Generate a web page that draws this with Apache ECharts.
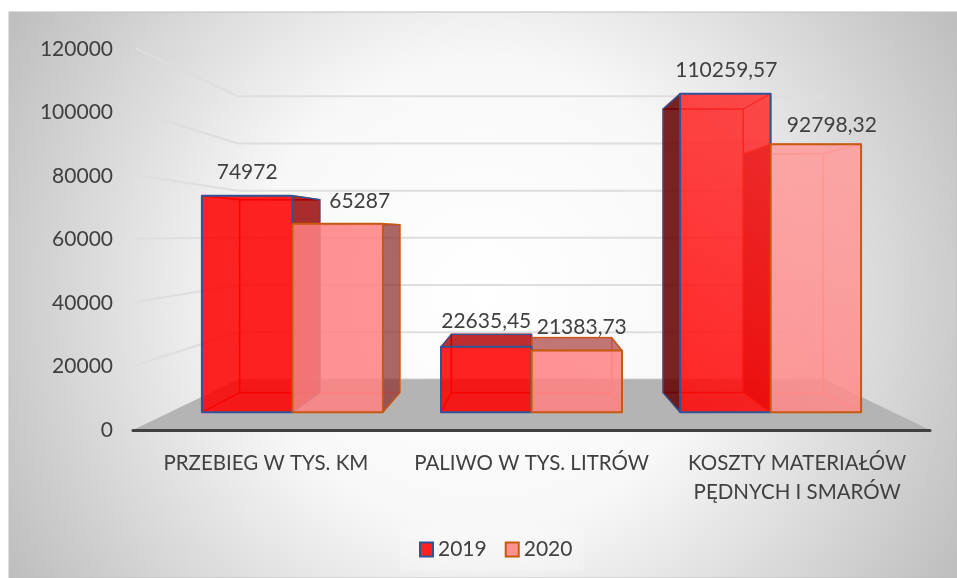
<!DOCTYPE html>
<html>
<head>
<meta charset="utf-8">
<style>html,body{margin:0;padding:0;background:#fff}#c{width:957px;height:578px}</style>
<script src="https://cdn.jsdelivr.net/npm/echarts@6/dist/echarts.min.js"></script>
</head>
<body>
<div id="c"></div>
<script>
const categories = ['PRZEBIEG W TYS. KM', 'PALIWO W TYS. LITRÓW', 'KOSZTY MATERIAŁÓW\nPĘDNYCH I SMARÓW'];
const values2019 = [74972, 22635.45, 110259.57];
const values2020 = [65287, 21383.73, 92798.32];
const yTicks = [0, 20000, 40000, 60000, 80000, 100000, 120000];
const label2019Shift = [[0, 0], [0, -3], [1, 0]];
const label2020Shift = [[22, 1], [5, 0], [16, 4]];

const FONT = 'Lato';
const VP = [531.5, 233];
const FRONT = [0.9, 0.91], BACK = [0.797, 0.81], WALL = [0.736, 0.743];
const proj = (p, d) => [VP[0] + d[0] * (p[0] - VP[0]), VP[1] + d[1] * (p[1] - VP[1])];

const styles = [
  { stroke: '#2F5597', innerStroke: 'rgba(215,0,0,0.75)', c0: 'rgba(255,0,0,0.85)', c1: 'rgba(255,50,50,0.85)', inner: 'rgba(255,0,0,0.05)', back: 'rgba(255,0,0,0.10)',
    side: 'rgba(150,0,0,0.80)', sideL: 'rgba(100,0,0,0.85)', top: 'rgba(175,0,0,0.80)', floor: 'rgba(255,0,0,0.10)' },
  { stroke: '#C55A11', innerStroke: 'rgba(255,120,110,0.8)', c0: 'rgba(255,130,130,0.85)', c1: 'rgba(255,160,160,0.85)', inner: 'rgba(255,60,60,0.08)', back: 'rgba(255,120,120,0.10)',
    side: 'rgba(140,50,50,0.72)', sideL: 'rgba(100,0,0,0.8)', top: 'rgba(170,70,70,0.72)', floor: 'rgba(255,90,90,0.10)' }
];

function renderBar(sIdx, shifts) {
  return function (params, api) {
    const st = styles[sIdx];
    const cat = api.value(0), val = api.value(1);
    const band = api.size([1, 0])[0];
    const bw = 0.3785 * band;
    const cx = api.coord([cat, 0])[0] + (sIdx - 0.5) * bw;
    const y0 = api.coord([cat, 0])[1], y1 = api.coord([cat, val])[1];
    const xl = cx - bw / 2, xr = cx + bw / 2;
    const F = (x, y) => proj([x, y], FRONT), B = (x, y) => proj([x, y], BACK);
    const fl = F(xl, y0), fr = F(xr, y0), ftl = F(xl, y1), ftr = F(xr, y1);
    const bl = B(xl, y0), br = B(xr, y0), btl = B(xl, y1), btr = B(xr, y1);
    const face = (pts, fill, z2, lw, stroke) => ({
      type: 'polygon', shape: { points: pts }, z2,
      style: { fill, stroke, lineWidth: lw, lineJoin: 'round' }
    });
    const frontFill = new echarts.graphic.LinearGradient(600, 400, 800, 90,
      [{ offset: 0, color: st.c0 }, { offset: 1, color: st.c1 }], true);
    const rightOut = br[0] > fr[0], leftOut = bl[0] < fl[0], topOut = btl[1] < ftl[1];
    const txt = String(val).replace('.', ',');
    const shift = shifts[cat];
    return {
      type: 'group',
      children: [
        face([bl, br, btr, btl], st.back, 1, 1.5, st.innerStroke),
        face([fl, fr, br, bl], st.floor, 2, 1.2, st.innerStroke),
        face([fl, bl, btl, ftl], leftOut ? st.sideL : st.inner, leftOut ? 4 : 3, 1.3, leftOut ? st.stroke : st.innerStroke),
        face([fr, br, btr, ftr], rightOut ? st.side : st.inner, rightOut ? 4 : 3, 1.3, rightOut ? st.stroke : st.innerStroke),
        face([ftl, ftr, btr, btl], topOut ? st.top : st.inner, topOut ? 4 : 3, 1.3, topOut ? st.stroke : st.innerStroke),
        face([fl, fr, ftr, ftl], frontFill, 5, 2, st.stroke),
        {
          type: 'text', z2: 9,
          x: (fl[0] + fr[0]) / 2 + shift[0], y: ftl[1] - 23 + shift[1],
          style: { text: txt, fill: '#404040', font: '400 21px ' + FONT, align: 'center', verticalAlign: 'middle' }
        }
      ]
    };
  };
}

function renderWall(params, api) {
  const v = api.value(0);
  const cs = params.coordSys;
  const y = api.coord([0, v])[1];
  const l = proj([cs.x, y], WALL), r = proj([cs.x + cs.width, y], WALL);
  const line = (a, b) => ({
    type: 'line', shape: { x1: a[0], y1: a[1], x2: b[0], y2: b[1] },
    style: { stroke: '#dedede', lineWidth: 2 }
  });
  const children = [line(l, r)];
  if (v > 0) children.push(line([cs.x + 2, y - 1], l));
  return { type: 'group', children };
}

function renderFloor(params, api) {
  const cs = params.coordSys;
  const y = api.coord([0, 0])[1];
  const a = [cs.x, y], b = [cs.x + cs.width, y];
  const pts = [a, b, proj(b, WALL), proj(a, WALL)];
  return { type: 'polygon', shape: { points: pts }, style: { fill: '#b4b4b4' } };
}

const chart = echarts.init(document.getElementById('c'), null, { renderer: 'canvas' });
chart.setOption({
  animation: false,
  backgroundColor: '#ffffff',
  graphic: [
    {
      type: 'rect', z: -10, silent: true,
      shape: { x: 9, y: 12, width: 948, height: 566 },
      style: {
        fill: new echarts.graphic.RadialGradient(0.5, 0.5, 0.98, [
          { offset: 0, color: '#ffffff' }, { offset: 0.42, color: '#f8f8f8' }, { offset: 1, color: '#bdbdbd' }
        ]),
        stroke: '#bfbfbf', lineWidth: 1
      }
    }
  ],
  grid: { left: 133, right: 27, top: 49, bottom: 148 },
  legend: {
    data: ['2019', '2020'], icon: 'rect', left: 400, top: 527,
    padding: [12, 11, 11, 19], itemWidth: 13, itemHeight: 14, itemGap: 18,
    backgroundColor: 'rgba(255,255,255,0.22)',
    textStyle: { fontFamily: FONT, fontSize: 21, color: '#404040' }
  },
  xAxis: {
    type: 'category', data: categories, boundaryGap: true, z: 20,
    axisLine: { show: true, lineStyle: { color: '#404040', width: 3, cap: 'round' } },
    axisTick: { show: false },
    axisLabel: { fontFamily: FONT, fontSize: 20.5, color: '#404040', margin: 19, lineHeight: 29, interval: 0 }
  },
  yAxis: {
    type: 'value', min: 0, max: 120000, interval: 20000,
    axisLine: { show: false }, axisTick: { show: false }, splitLine: { show: false },
    axisLabel: { fontFamily: FONT, fontSize: 21, color: '#404040', margin: 20, formatter: v => String(v) }
  },
  series: [
    { type: 'custom', name: 'wall', data: yTicks.map(v => [v]), encode: { y: 0 }, renderItem: renderWall, silent: true, z: 1 },
    { type: 'custom', name: 'floor', data: [[0]], encode: { y: 0 }, renderItem: renderFloor, silent: true, z: 2 },
    {
      type: 'custom', name: '2019', z: 5, clip: false, renderItem: renderBar(0, label2019Shift),
      data: values2019.map((v, i) => [i, v]), encode: { x: 0, y: 1 },
      itemStyle: { color: '#ff2020', borderColor: '#2F5597', borderWidth: 2 }
    },
    {
      type: 'custom', name: '2020', z: 5, clip: false, renderItem: renderBar(1, label2020Shift),
      data: values2020.map((v, i) => [i, v]), encode: { x: 0, y: 1 },
      itemStyle: { color: '#ff9191', borderColor: '#C55A11', borderWidth: 2 }
    }
  ]
});
</script>
</body>
</html>
